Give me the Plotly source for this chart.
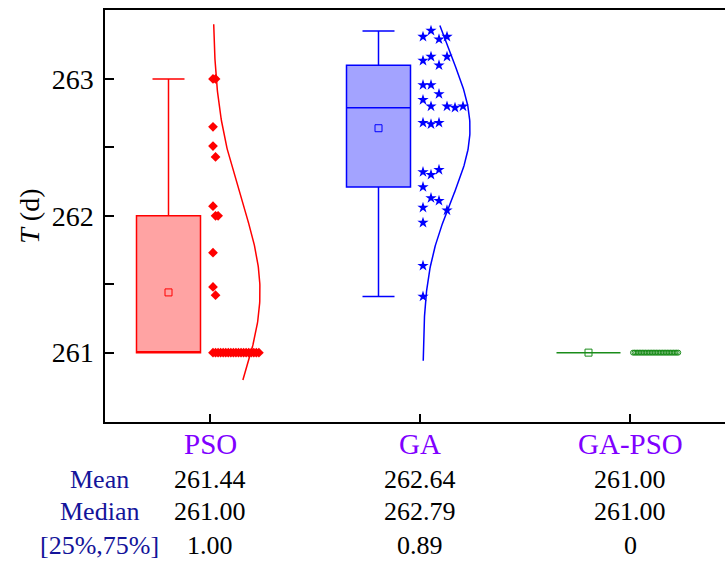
import numpy as np
import plotly.graph_objects as go

# ---------------- data ----------------
categories = ["PSO", "GA", "GA-PSO"]

pso_values = [263.0, 263.0, 262.65, 262.51, 262.43, 262.07, 262.0, 262.0,
              261.73, 261.48, 261.42] + [261.0] * 19
ga_values = [263.309, 263.353, 263.29, 263.309, 263.134, 263.163, 263.10, 263.163,
             262.956, 262.956, 262.89, 262.847, 262.80, 262.80, 262.79, 262.80,
             262.68, 262.67, 262.68, 262.32, 262.30, 262.336, 262.21,
             262.13, 262.11, 262.06, 262.04, 261.95, 261.635, 261.41]
gapso_values = [261.0] * 30

# box statistics as shown in the reference
box_q1 = [261.0, 262.21, 261.0]
box_median = [261.0, 262.79, 261.0]
box_q3 = [262.0, 263.10, 261.0]
box_low = [261.0, 261.41, 261.0]
box_high = [263.0, 263.35, 261.0]
box_mean = [261.44, 262.64, 261.00]

# table texts
row_labels = ["Mean", "Median", "[25%,75%]"]
mean_txt = ["261.44", "262.64", "261.00"]
median_txt = ["261.00", "262.79", "261.00"]
iqr_txt = ["1.00", "0.89", "0"]

# curve extents (y) for the distribution curves
curve_lo = [260.80, 260.94, None]
curve_hi = [263.40, 263.39, None]

# ---------------- styling ----------------
PX = 1.0 / 210.0  # one pixel in x data units
colors = ["#ff0000", "#0000ff", "#1a8c1a"]
fills = ["#ffa3a3", "#a3a3ff", "rgba(0,0,0,0)"]
symbols = ["diamond", "star", "circle-open"]
msizes = [7.5, 8.5, 5]
col_step = [2.55, 8.0, 1.56]      # px between swarm columns
col_thr = [0.09, 0.10, 0.05]      # y distance that forces a new column
FONT = "Liberation Serif"

W, Hfig = 725, 563
L_SCR, T_SCR, B_SCR = 105, 10, 422.5
ml, mt = L_SCR, T_SCR
mb = Hfig - B_SCR
plot_w = W - ml

fig = go.Figure()
groups = [pso_values, ga_values, gapso_values]


def swarm_columns(vals, thr):
    placed = []
    cols = []
    for v in vals:
        c = 0
        while True:
            if c >= len(placed):
                placed.append([])
            if all(abs(v - w) >= thr for w in placed[c]):
                placed[c].append(v)
                cols.append(c)
                break
            c += 1
    return np.array(cols)


for i, cat in enumerate(categories):
    xc = i + 1
    bx = xc - 41.5 * PX
    fig.add_trace(go.Box(
        x=[bx], q1=[box_q1[i]], median=[box_median[i]], q3=[box_q3[i]],
        lowerfence=[box_low[i]], upperfence=[box_high[i]],
        width=64 * PX, whiskerwidth=0.5,
        fillcolor=fills[i], line=dict(color=colors[i], width=1.5),
        boxpoints=False, showlegend=False, hoverinfo="skip"))
    fig.add_trace(go.Scatter(
        x=[bx], y=[box_mean[i]], mode="markers",
        marker=dict(symbol="square-open", size=7, color=colors[i],
                    line=dict(width=1, color=colors[i])),
        showlegend=False, hoverinfo="skip"))
    vals = np.array(groups[i])
    cols = swarm_columns(vals, col_thr[i])
    xs = xc + (3 + cols * col_step[i]) * PX
    mk = dict(symbol=symbols[i], size=msizes[i], color=colors[i])
    if symbols[i].endswith("open"):
        mk["line"] = dict(width=1, color=colors[i])
    else:
        mk["line"] = dict(width=0)
    fig.add_trace(go.Scatter(x=xs, y=vals, mode="markers", marker=mk,
                             showlegend=False, hoverinfo="skip"))
    if curve_lo[i] is not None:
        mu = vals.mean()
        sd = vals.std(ddof=1)
        yy = np.linspace(curve_lo[i], curve_hi[i], 200)
        amp = 47 * PX
        xx = xc + 3 * PX + amp * np.exp(-(yy - mu) ** 2 / (2 * sd ** 2))
        fig.add_trace(go.Scatter(x=xx, y=yy, mode="lines",
                                 line=dict(color=colors[i], width=1.5),
                                 showlegend=False, hoverinfo="skip"))

# ---------------- table below the plot ----------------
PH = B_SCR - T_SCR


def py(pix):  # screen y -> paper y
    return (B_SCR - pix) / PH


def px_paper(pix):  # screen x -> paper x
    return (pix - L_SCR) / plot_w


ROW_Y = [480, 512, 546]
ann = []
for i, cat in enumerate(categories):
    ann.append(dict(x=i + 1, xref="x", y=py(445), yref="paper", text=cat,
                    showarrow=False, yanchor="middle",
                    font=dict(family=FONT, size=29, color="#8000ff")))
    for r, txts in enumerate([mean_txt, median_txt, iqr_txt]):
        ann.append(dict(x=i + 1, xref="x", y=py(ROW_Y[r]), yref="paper",
                        text=txts[i], showarrow=False, yanchor="middle",
                        font=dict(family=FONT, size=26, color="#000000")))
for r, lab in enumerate(row_labels):
    ann.append(dict(x=px_paper(99), xref="paper", y=py(ROW_Y[r]), yref="paper",
                    text=lab, showarrow=False, xanchor="center", yanchor="middle",
                    font=dict(family=FONT, size=26, color="#14149a")))
ann.append(dict(x=px_paper(30), xref="paper", y=py(217), yref="paper",
                text="<i>T</i> (d)", showarrow=False, textangle=-90,
                xanchor="center", yanchor="middle",
                font=dict(family=FONT, size=28, color="#000000")))

fig.update_layout(
    width=W, height=Hfig,
    margin=dict(l=ml, r=0, t=mt, b=mb, pad=0),
    paper_bgcolor="white", plot_bgcolor="white",
    annotations=ann,
    xaxis=dict(range=[0.5, 0.5 + plot_w / 210.0], tickvals=[1, 2, 3],
               showticklabels=False, ticks="inside", ticklen=8, tickwidth=1.5,
               tickcolor="#000", showline=True, linecolor="#000", linewidth=1.5,
               mirror=True, showgrid=False, zeroline=False),
    yaxis=dict(range=[260.493, 263.504], tickvals=[261, 262, 263],
               ticks="inside", ticklen=9, tickwidth=1.5, tickcolor="#000",
               minor=dict(dtick=0.5, ticks="inside", ticklen=9, tickwidth=1.5,
                          tickcolor="#000", showgrid=False),
               showline=True, linecolor="#000", linewidth=1.5,
               showgrid=False, zeroline=False, ticklabelstandoff=4,
               tickfont=dict(family=FONT, size=28, color="#000")),
)

# remove the default page margin so the 725x563 figure fills the window exactly
fig.write_html(
    "out.html",
    config={"displayModeBar": False},
    post_script="document.body.style.margin='0';"
                "document.documentElement.style.overflow='hidden';"
                "document.body.style.overflow='hidden';",
)
